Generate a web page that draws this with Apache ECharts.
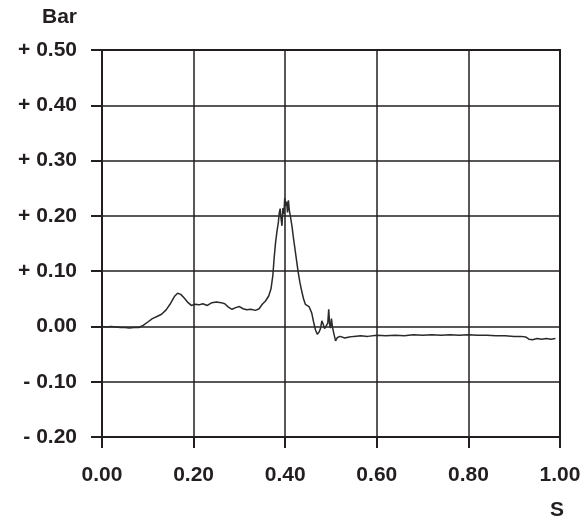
<!DOCTYPE html>
<html>
<head>
<meta charset="utf-8">
<script src="https://cdn.jsdelivr.net/npm/echarts@6/dist/echarts.min.js"></script>
<style>
    html, body { margin: 0; padding: 0; background: #fff; }
    #chart { width: 584px; height: 523px; }
</style>
</head>
<body>
<div id="chart"></div>
<script>
    // time (s) and pressure (bar)
    const timeS = [
        0.000, 0.010, 0.020, 0.030, 0.040, 0.050, 0.060, 0.070, 0.080, 0.090,
        0.100, 0.110, 0.120, 0.130, 0.140, 0.150, 0.158, 0.165, 0.172, 0.180,
        0.188, 0.195, 0.203, 0.212, 0.220, 0.230, 0.240, 0.250, 0.260, 0.268,
        0.276, 0.284, 0.292, 0.300, 0.308, 0.316, 0.325, 0.335, 0.343, 0.350,
        0.357, 0.364, 0.369, 0.373, 0.376, 0.379, 0.382, 0.385, 0.387, 0.389,
        0.391, 0.393, 0.395, 0.397, 0.399, 0.401, 0.403, 0.405, 0.407, 0.409,
        0.412, 0.415, 0.418, 0.421, 0.425, 0.428, 0.432, 0.436, 0.440, 0.444,
        0.448, 0.452, 0.455, 0.458, 0.462, 0.466, 0.470, 0.474, 0.477, 0.480,
        0.483, 0.486, 0.490, 0.493, 0.495, 0.497, 0.499, 0.501, 0.503, 0.506,
        0.510, 0.514, 0.520, 0.530, 0.540, 0.550, 0.565, 0.580, 0.600, 0.620,
        0.640, 0.660, 0.680, 0.700, 0.720, 0.740, 0.760, 0.780, 0.800, 0.820,
        0.840, 0.860, 0.880, 0.900, 0.915, 0.925, 0.932, 0.940, 0.950, 0.960,
        0.970, 0.980, 0.990
    ];
    const pressureBar = [
        0.000, -0.001, 0.000, -0.001, -0.002, -0.002, -0.003, -0.002, -0.002, 0.002,
        0.008, 0.014, 0.018, 0.022, 0.030, 0.042, 0.054, 0.060, 0.058, 0.051,
        0.043, 0.038, 0.040, 0.039, 0.041, 0.038, 0.043, 0.044, 0.043, 0.041,
        0.035, 0.031, 0.034, 0.036, 0.032, 0.030, 0.031, 0.029, 0.032, 0.040,
        0.046, 0.055, 0.068, 0.092, 0.125, 0.152, 0.172, 0.188, 0.205, 0.213,
        0.195, 0.182, 0.214, 0.203, 0.232, 0.218, 0.226, 0.206, 0.228, 0.210,
        0.196, 0.180, 0.160, 0.142, 0.118, 0.100, 0.080, 0.064, 0.050, 0.040,
        0.042, 0.036, 0.038, 0.024, 0.008, -0.006, -0.014, -0.010, -0.004, 0.010,
        0.004, -0.004, -0.006, 0.006, 0.031, 0.004, -0.003, 0.014, 0.000, -0.012,
        -0.026, -0.020, -0.018, -0.021, -0.019, -0.018, -0.017, -0.018, -0.016, -0.017,
        -0.016, -0.017, -0.015, -0.016, -0.015, -0.016, -0.015, -0.016, -0.015, -0.016,
        -0.016, -0.017, -0.017, -0.018, -0.018, -0.019, -0.023, -0.024, -0.022, -0.023,
        -0.022, -0.023, -0.022
    ];

    const ink = '#231f20';
    const font = 'Liberation Sans, Arial, sans-serif';

    let seriesData = [];
    for (let i in timeS) {
        seriesData.push([timeS[i], pressureBar[i]]);
    }

    function yLabel(v) {
        if (Math.abs(v) < 1e-9) return '0.00';
        return (v > 0 ? '+ ' : '- ') + Math.abs(v).toFixed(2);
    }

    let myChart = echarts.init(document.getElementById('chart'));
    myChart.setOption({
        animation: false,
        grid: {
            left: 102,
            right: 24,
            top: 50,
            bottom: 86,
            show: true,
            borderColor: ink,
            borderWidth: 2
        },
        xAxis: {
            type: 'value',
            min: 0,
            max: 1,
            interval: 0.2,
            axisLine: { onZero: false, lineStyle: { color: ink, width: 2 } },
            axisTick: { show: true, length: 11, lineStyle: { color: ink, width: 2 } },
            splitLine: { lineStyle: { color: ink, width: 1.5 } },
            axisLabel: {
                margin: 28,
                color: ink,
                fontFamily: font,
                fontWeight: 'bold',
                fontSize: 21,
                formatter: v => v.toFixed(2)
            }
        },
        yAxis: {
            type: 'value',
            min: -0.2,
            max: 0.5,
            interval: 0.1,
            axisLine: { show: true, onZero: false, lineStyle: { color: ink, width: 2 } },
            axisTick: { show: true, length: 11, lineStyle: { color: ink, width: 2 } },
            splitLine: { lineStyle: { color: ink, width: 1.5 } },
            axisLabel: {
                margin: 25,
                color: ink,
                fontFamily: font,
                fontWeight: 'bold',
                fontSize: 21,
                formatter: yLabel
            }
        },
        graphic: [
            {
                type: 'text',
                right: 584 - 77,
                top: 7,
                style: { text: 'Bar', fill: ink, font: 'bold 21px ' + font }
            },
            {
                type: 'text',
                left: 550,
                top: 500,
                style: { text: 'S', fill: ink, font: 'bold 21px ' + font }
            }
        ],
        series: [{
            type: 'line',
            data: seriesData,
            showSymbol: false,
            smooth: false,
            lineStyle: { color: '#2a2a2a', width: 1.5 }
        }]
    });
</script>
</body>
</html>
